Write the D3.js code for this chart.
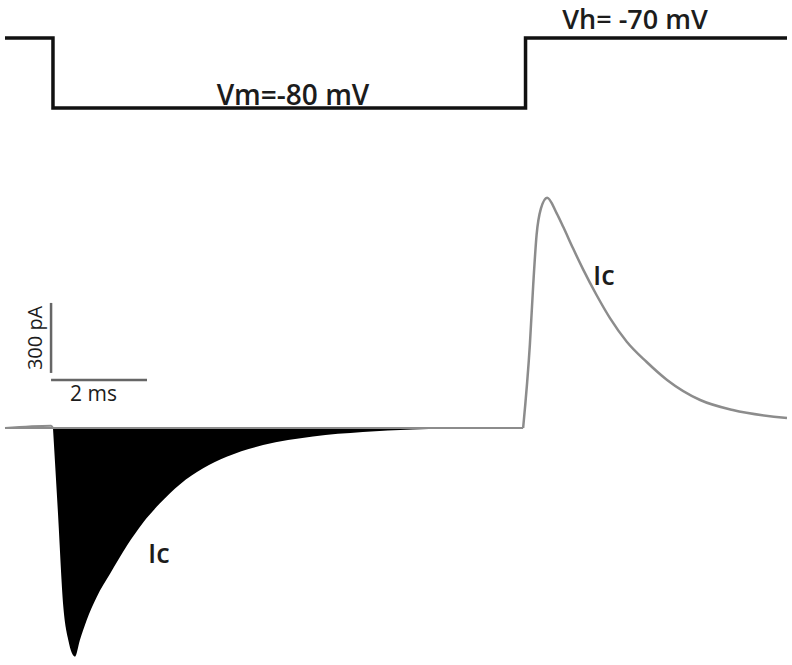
<!DOCTYPE html>
<meta charset="utf-8">
<style>
body { margin: 0; background: #fff; }
.label { font-family: "Open Sans", sans-serif; fill: #1c1c1c; }
</style>
<svg width="792" height="665"></svg>
<script src="https://d3js.org/d3.v7.min.js"></script>
<script>

// voltage protocol (ms, mV)
var vTimes = [0, 1.0, 10.85, 16.3]
var vLevels = [-70, -80, -70, -70]

// capacitive current trace (ms, pA)
var iTimes = [0, 0.96, 1.0, 1.1, 1.215, 1.32, 1.46, 1.56, 1.7, 1.91, 2.19, 2.54, 2.88, 3.23, 3.65, 4.13, 4.62,
  5.38, 6.42, 7.46, 8.5, 9.5,
  10.8, 10.94, 11.01, 11.08, 11.17, 11.3, 11.5, 11.64, 11.84, 12.05, 12.33, 12.61, 12.96, 13.37, 13.8, 14.49, 15.17, 16.3]
var iValues = [0, 10, 0, -350, -765, -910, -980, -910, -825, -725, -625, -505, -405, -323, -241, -173, -123,
  -73, -36, -17, -6, -2,
  0, 356, 613, 827, 940, 987, 920, 860, 770, 680, 570, 471, 370, 284, 206, 120, 77, 43]

// scale bars
var barTime = 2      // ms
var barCurrent = 300 // pA

var svg = d3.select('svg')

var x = d3.scaleLinear().domain([0, 16.3]).range([5, 787])
var yV = d3.scaleLinear().domain([-80, -70]).range([108, 38])
var yI = d3.scaleLinear().domain([0, 300]).range([428, 358])

var vData = vTimes.map(function (t, k) { return { t: t, v: vLevels[k] } })
var iData = iTimes.map(function (t, k) { return { t: t, i: iValues[k] } })

// voltage step
svg.append('path')
  .datum(vData)
  .attr('fill', 'none')
  .attr('stroke', '#111')
  .attr('stroke-width', 3.5)
  .attr('d', d3.line()
    .x(function (d) { return x(d.t) })
    .y(function (d) { return yV(d.v) })
    .curve(d3.curveStepAfter))

svg.append('text').attr('class', 'label')
  .attr('x', 293).attr('y', 105)
  .attr('text-anchor', 'middle')
  .style('font-size', '28px').style('font-weight', 600)
  .text('Vm=-80 mV')

svg.append('text').attr('class', 'label')
  .attr('x', 635).attr('y', 29)
  .attr('text-anchor', 'middle')
  .style('font-size', '27px').style('font-weight', 600)
  .text('Vh= -70 mV')

// inward transient, filled black
var negData = iData.filter(function (d) { return d.t >= 1.0 && d.t <= 10.8 })
svg.append('path')
  .datum(negData)
  .attr('fill', '#000')
  .attr('d', d3.area()
    .x(function (d) { return x(d.t) })
    .y0(yI(0))
    .y1(function (d) { return yI(d.i) })
    .curve(d3.curveMonotoneX))

// gray trace: baseline and outward transient
var baseline = [{ t: x.domain()[0], i: 0 }, { t: 10.8, i: 0 }]
var grayLine = d3.line()
  .x(function (d) { return x(d.t) })
  .y(function (d) { return yI(d.i) })
  .curve(d3.curveMonotoneX)

svg.append('path')
  .datum(baseline)
  .attr('fill', 'none')
  .attr('stroke', '#8c8c8c')
  .attr('stroke-width', 2)
  .attr('d', grayLine)

svg.append('path')
  .datum(iData.filter(function (d) { return d.t <= 1.0 }))
  .attr('fill', 'none')
  .attr('stroke', '#8c8c8c')
  .attr('stroke-width', 2)
  .attr('d', grayLine)

svg.append('path')
  .datum(iData.filter(function (d) { return d.t >= 10.8 }))
  .attr('fill', 'none')
  .attr('stroke', '#8c8c8c')
  .attr('stroke-width', 2.5)
  .attr('stroke-linejoin', 'round')
  .attr('d', grayLine)

svg.append('text').attr('class', 'label')
  .attr('x', 148).attr('y', 563)
  .style('font-size', '27px').style('font-weight', 600)
  .text('Ic')

svg.append('text').attr('class', 'label')
  .attr('x', 593).attr('y', 285)
  .style('font-size', '27px').style('font-weight', 600)
  .text('Ic')

// scale bars
var bar0 = 0.96
var barBase = 206
svg.append('line')
  .attr('x1', x(bar0)).attr('x2', x(bar0))
  .attr('y1', yI(barBase + 30)).attr('y2', yI(barBase + 30 + barCurrent))
  .attr('stroke', '#666').attr('stroke-width', 2.5)
svg.append('line')
  .attr('x1', x(bar0)).attr('x2', x(bar0 + barTime))
  .attr('y1', yI(barBase)).attr('y2', yI(barBase))
  .attr('stroke', '#666').attr('stroke-width', 2.5)

svg.append('text').attr('class', 'label')
  .attr('x', 70).attr('y', 401)
  .style('font-size', '21px')
  .text(barTime + ' ms')

svg.append('text').attr('class', 'label')
  .attr('transform', 'translate(42,' + yI(barBase + 30 + barCurrent / 2) + ') rotate(-90)')
  .attr('text-anchor', 'middle')
  .style('font-size', '20px')
  .text(barCurrent + ' pA')

</script>
